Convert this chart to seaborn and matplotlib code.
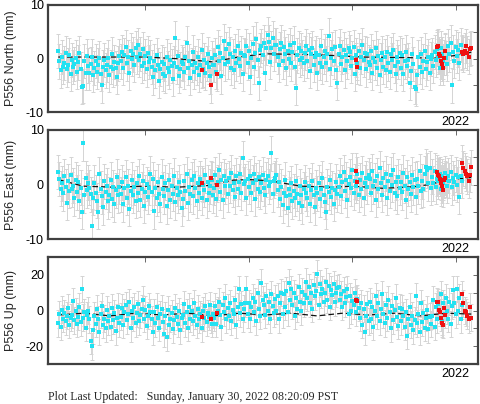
import numpy as np
import pandas as pd
import matplotlib
matplotlib.use('Agg')
import matplotlib.pyplot as plt
import seaborn as sns

# ---- data (decimal years, mm) ----
# daily-ish solutions, evenly spaced between these epochs
n_start, n_end = 2018.16, 2022.06

north = [1.4, -0.5, -2.2, 0.3, -1.5, -0.8, 1.0, -2.0, -1.2, 0.6, -2.8, -0.3, -1.6, -1.0, 0.2, -2.4, -0.7, 1.1, -1.9, -5.3, -5.1, -0.4, -2.6, 0.5, -1.3,
         -2.6, -1.0, 0.4, -3.1, -1.8, -0.4, -2.5, -1.2, 0.1, -2.9, -5.0, -1.6, -0.3, -2.2, -1.2, 0.2, -3.0, -1.5, 0.8, -2.0, -0.6, -1.8, -3.4, -0.9, 0.5,
         -0.5, 1.2, -1.8, 0.6, 2.1, -0.9, 0.3, -2.6, 1.5, -0.1, 0.8, -1.2, 1.9, 0.4, 2.6, -0.2, 0.9, -1.4, 1.8, -0.8, 0.5, -2.0, 1.1, -0.6, 0.2,
         -1.6, -3.5, -0.4, -2.2, 0.7, -1.2, -4.1, -1.9, -0.6, -2.8, -1.0, -3.2, 0.4, -1.7, -2.5, -0.3, -1.4, -3.8, -0.8, 3.9, -1.5, 0.5, -3.2, -2.0, -0.7,
         -1.0, -2.4, 0.3, 2.9, -1.8, -0.5, -3.6, -1.2, 1.2, -2.4, -0.8, -1.7, 0.4, -3.0, -1.1, 1.6, -2.0, -0.3, -2.7, -0.9, 0.8, -1.5, -3.3, 0.1, -1.2,
         -1.2, 0.6, -2.5, 2.2, -0.4, 1.1, -3.3, 0.2, 3.3, -1.0, 1.8, -0.6, 2.7, 0.9, -1.7, 0.4, -2.2, 1.4, -0.9, 2.4, 0.0, -1.4, 1.0, -2.8, 0.7,
         0.5, 2.3, -0.8, 1.5, -3.4, 0.2, 2.8, -1.5, 1.0, 3.6, -0.3, -4.5, 1.6, 2.4, 0.6, 3.0, -2.6, 2.0, 4.5, 3.1, -0.6, 1.9, 3.8, 0.9, 2.6,
         2.6, 0.4, -1.2, 1.8, 3.0, -0.5, 2.2, 0.9, -1.8, 1.4, 0.0, 2.5, -0.9, 1.2, 2.9, -1.5, -5.4, 0.6, 2.0, -0.3, 1.5, 0.2, -0.9, 1.1, 2.4,
         -0.4, 1.6, -2.3, 0.8, 2.0, -1.2, 0.3, 1.1, -2.6, 0.6, -0.8, 2.3, -1.6, 0.4, 1.4, -0.9, 0.9, 4.3, -1.9, 0.2, 1.8, -0.5, 2.1, -2.2, -4.5,
         0.9, 2.4, -1.0, 0.3, 1.7, -2.2, 0.6, -0.5, 2.0, 1.2, -1.4, 0.1, 2.2, -2.8, 0.7, -0.8, 1.5, -1.7, 0.4, 2.6, -0.3, 1.0, -2.0, 0.8, -0.6,
         -1.1, 1.4, -2.6, 0.2, -0.7, 1.9, -1.8, 0.5, -3.0, -0.3, 1.0, -1.5, 0.4, -2.1, 1.3, -0.9, -2.4, 0.8, -0.2, 1.6, -1.3, -2.8, 0.3, -0.6, 1.1,
         -1.7, 0.6, -2.8, -0.5, 1.2, -1.3, -0.2, -4.5, -2.3, 0.9, -1.0, -5.2, -5.6, -3.1, 0.3, -1.5, 0.8, -2.4, -0.4, 1.5, -1.9, -0.7, 0.4, -2.6, -0.1,
         0.6, -1.4, 1.2, -0.3, 1.8, 0.4, -1.7, 2.0, 0.9, -0.5, 1.5, 0.1, -1.0, 2.4, 0.8, 3.0, -5.0, 1.3, -0.4, 2.2, 0.5, 1.7, -0.8, 2.6, 1.0]

east = [2.3, 1.0, -0.8, 0.2, -1.6, 1.5, -0.4, -3.4, 0.6, -1.2, 1.8, -0.9, -0.2, -2.5, 0.9, -1.4, 0.4, -3.0, -0.6, -5.0, 7.6, -2.0, 1.2, -1.1, 0.3,
        -0.6, -1.8, -7.7, -2.4, 0.3, -1.5, -3.0, -5.0, 1.9, -0.8, -2.2, -4.2, 0.6, -1.3, -0.2, -3.1, -1.9, 0.9, -2.7, -0.5, -3.6, -1.1, 1.4, -2.0, -0.4,
        -1.8, 0.4, -3.6, -0.7, 1.3, -2.4, -0.3, -4.5, -1.2, 0.9, -2.0, -0.5, -3.0, 0.2, -1.6, 1.5, -2.8, -0.9, 0.6, -3.9, -1.4, 0.1, -2.3, -0.6, 2.0,
        -1.4, 1.0, -4.9, -0.6, -2.5, 0.5, -1.8, -3.6, 1.4, -0.9, -2.2, 0.3, -4.0, -1.1, 0.8, -2.9, -0.2, -1.7, 1.6, -3.3, -0.7, -2.0, 0.4, -1.3, -4.4,
        -2.6, 0.6, -1.2, 1.9, -3.4, -0.4, -1.8, 0.9, -2.2, 1.5, -0.7, -3.0, 0.2, -1.5, 1.1, -2.4, -0.1, -1.0, 1.7, -2.9, 0.4, -1.6, -0.3, 0.9, -2.0,
        -0.6, 1.8, -2.6, 0.4, 2.6, -1.4, 0.9, -2.9, 1.5, -0.3, 0.7, -1.8, 1.2, -0.2, 2.2, -1.0, 0.3, -2.3, 1.6, -0.8, 0.5, 2.0, -1.5, 4.8, 0.1,
        0.6, -2.4, 1.1, -0.4, 1.5, -1.6, 0.3, 2.0, -2.6, 0.8, -0.9, 1.3, -1.3, 0.2, 1.8, -0.7, -2.0, 0.9, 1.6, -0.3, 0.5, 5.7, -1.8, 0.7, 1.2,
        1.7, -1.0, 0.5, -2.6, -0.4, -3.8, -1.5, 0.9, -2.2, -4.4, -0.8, -1.9, 0.2, -3.1, -1.2, -2.5, 0.6, -1.7, -3.4, -0.3, -2.0, -4.0, -0.9, 0.4, -1.6,
        -2.5, -0.2, -3.6, -1.0, 0.7, -2.0, -4.2, -0.6, -1.6, 0.3, -2.7, -0.9, 1.2, -1.9, -3.2, -5.0, -0.4, -1.4, 0.8, -2.3, -0.7, -3.5, -1.1, 0.5, -1.8,
        -0.5, 1.6, -2.1, 0.4, 2.3, -1.2, 0.9, -2.8, 0.1, 1.4, -0.7, 2.6, -1.5, 0.6, -0.2, 1.9, -1.9, 0.8, -0.9, 2.1, -2.4, 0.3, 1.2, -0.4, 1.7,
        1.0, -1.6, 2.4, -0.3, 0.7, -2.8, 1.6, -0.9, 3.0, 0.2, -1.9, 1.2, -0.5, 2.0, -2.4, 0.6, -1.2, 1.8, -0.1, 2.6, -1.5, 0.4, -2.2, 1.4, -0.6,
        0.5, -1.4, 2.2, -0.2, -2.9, 1.3, -0.8, 0.4, -1.8, 1.8, -0.5, 0.9, -2.3, 1.1, -0.3, 2.4, -1.2, 0.6, -0.9, 2.0, 3.3, 2.6, 0.2, 3.0, -0.6,
        1.4, 0.2, 2.5, -0.4, 1.1, 0.6, 1.9, -0.8, 1.5, 0.3, 2.1, 0.9, -0.2, 1.6, 0.7, 2.3, -0.5, 1.2, 0.4, 1.8, 0.0, 1.3, -2.3, 1.6, 0.7]

up = [-7.0, -2.0, -9.0, 0.5, -4.5, -1.5, -6.0, -3.0, 1.5, -8.0, -4.0, -2.5, 5.2, -5.5, -0.5, -7.5, -3.5, 2.0, -6.5, 12.0, -4.0, -1.0, -9.5, -2.5, 0.0,
      -5.0, -17.0, -20.0, -11.0, -3.0, -7.5, 1.0, -5.0, -12.0, -2.0, 2.5, -8.0, -4.5, -10.0, 0.5, -6.0, -3.0, -9.0, 1.5, -5.5, -1.5, -11.5, -4.0, 2.0, -7.0,
      -3.5, 1.5, -8.0, -1.0, 3.0, -5.5, -2.0, 4.5, -10.0, 0.0, -4.0, 2.0, -7.0, -1.5, 3.5, -6.0, -2.5, 1.0, 6.0, -4.5, 0.5, -8.5, -3.0, 2.5, -1.0,
      -5.0, -12.0, -1.0, -7.0, 2.0, -4.0, -9.5, -2.0, 1.0, -6.5, -13.0, -3.0, -15.0, 0.5, -8.0, -4.5, -1.5, -10.5, -5.5, 1.5, -3.5, -7.5, -0.5, -11.0, -4.0,
      -2.5, 3.5, -7.0, -1.0, -9.5, 2.0, -4.5, -0.5, -6.0, 4.0, -3.0, -8.0, 1.0, -5.0, -2.0, -10.0, 0.0, -4.0, 2.5, -6.5, -1.5, -3.5, 3.0, -7.5, -2.0,
      -4.0, 2.5, -7.5, 0.0, 5.0, -2.5, -9.0, 3.0, -1.0, 7.0, -5.0, 1.5, -3.0, 4.0, -6.0, 0.5, -2.0, 6.0, -8.0, 2.0, 12.0, -1.5, 3.5, -4.5, 1.0,
      4.0, 12.0, -2.0, 4.0, -4.5, 2.0, 7.0, -1.0, 5.0, -6.0, 10.0, 1.0, -3.0, 15.5, 6.0, 3.0, -2.5, 8.0, 0.0, 4.5, -5.0, 9.0, 2.5, -1.5, 6.5,
      0.0, 8.0, -5.0, 4.0, 10.0, -2.0, 9.0, 2.0, 11.0, -1.0, 15.5, 6.0, 12.0, 3.0, 9.5, -3.0, 7.0, 1.0, 13.0, 5.0, -0.5, 10.5, 4.0, 8.5, 16.0,
      7.0, 13.0, 4.0, 10.0, 1.0, 14.0, 8.0, 11.0, 20.5, 3.0, 15.0, 9.0, 12.0, 5.0, 10.0, 16.0, 6.0, 13.5, 2.0, 11.5, 8.5, 14.5, 4.5, 9.5, 12.5,
      13.0, 6.0, 9.0, 2.0, 11.0, 4.0, 7.5, 12.0, -2.0, 8.0, 0.0, 5.5, 3.0, 10.0, -1.0, 6.5, 1.5, -4.0, 4.0, -8.0, 1.0, -12.0, -3.0, 3.5, -6.0,
      5.0, -5.0, 2.0, -9.0, 0.0, 8.0, -3.0, 4.0, -6.0, 1.0, 9.0, -2.0, -7.0, 3.0, -4.0, 6.0, -1.0, -10.0, 2.5, -5.5, 0.5, 7.0, -3.5, -8.5, 1.5,
      -6.0, 1.0, -3.0, -9.0, -1.0, -14.0, -5.0, 2.0, -8.0, -3.0, -11.0, -5.5, 8.0, -7.0, -2.0, -12.0, 4.0, -6.5, -1.5, -9.5, -4.0, 0.5, -10.5, -3.5, -7.5,
      -3.0, 6.0, -9.0, 2.0, -5.0, 3.5, -1.0, 9.0, -6.0, 4.0, -2.0, 7.0, 0.0, -4.5, 5.0, -7.5, 2.5, 11.7, 4.0, -2.0, 12.0, 0.0, 7.0, -5.0, 3.0]

# rapid solutions (red)
red_years = [2019.55, 2019.64, 2019.69, 2021.04, 2021.05,
             2021.820, 2021.830, 2021.840, 2021.850, 2021.860, 2021.870, 2021.880, 2021.890, 2021.900,
             2022.060, 2022.073, 2022.086, 2022.099, 2022.112, 2022.125, 2022.138, 2022.150]
red_north = [-2.2, -5.0, -2.8, -0.3, -1.5,
             2.1, 2.3, 0.8, 0.5, -0.5, -1.0, -1.7, 0.2, 1.4,
             1.3, 0.8, 1.5, 2.3, 1.0, 0.4, 1.8, 2.0]
red_east = [0.2, 1.2, 0.0, 2.5, 0.4,
            2.3, 1.7, 1.5, 1.0, 0.3, -0.2, -1.0, 0.8, 1.2,
            4.0, 3.0, 2.5, 2.0, 1.5, 0.7, 1.8, 3.2]
red_up = [-3.4, -4.8, -1.3, 6.0, 5.2,
          5.0, 4.5, 0.5, -1.0, -4.0, -7.0, -8.0, 1.5, -2.5,
          9.0, 4.0, 0.0, -1.0, -3.0, -5.0, 2.0, -4.0]

# model curves (dashed)
north_model_years = [2018.16, 2018.6, 2019.0, 2019.3, 2019.65, 2019.9, 2020.15, 2020.5,
                     2020.8, 2021.1, 2021.5, 2021.8, 2022.0, 2022.15]
north_model = [0.3, 0.3, 0.3, 0.0, -0.6, 0.3, 0.9, 0.8, 0.6, 0.3, 0.2, 0.1, 0.6, 1.2]
east_model_years = [2018.16, 2018.4, 2018.7, 2019.0, 2019.3, 2019.6, 2019.85, 2020.0, 2020.2,
                    2020.5, 2020.8, 2021.0, 2021.3, 2021.6, 2021.75, 2021.9, 2022.15]
east_model = [0.9, -0.3, -0.5, -0.3, -0.5, -0.2, 0.8, 0.9, 0.7, -0.3, -0.5, -0.3, -0.7, -0.4,
              0.0, 0.8, 1.3]
up_model_years = [2018.16, 2018.41, 2018.66, 2018.91, 2019.16, 2019.41, 2019.66, 2019.91,
                  2020.16, 2020.41, 2020.66, 2020.91, 2021.16, 2021.41, 2021.66, 2021.91, 2022.15]
up_model = [-2.5, -1.5, -3.0, -1.5, -2.5, -1.5, -3.0, -1.5, -2.5, -1.5, -3.0, -1.5, -2.5,
            -1.5, -3.0, -1.5, -2.0]

sigmas = {'North': 3.2, 'East': 3.2, 'Up': 7.5}

panels = [
    ('P556 North (mm)', north, red_north, north_model_years, north_model, sigmas['North'],
     (-10, 10), [-10, -5, 0, 5, 10], ['-10', '', '0', '', '10']),
    ('P556 East (mm)', east, red_east, east_model_years, east_model, sigmas['East'],
     (-10, 10), [-10, -5, 0, 5, 10], ['-10', '', '0', '', '10']),
    ('P556 Up (mm)', up, red_up, up_model_years, up_model, sigmas['Up'],
     (-30, 30), [-20, -10, 0, 10, 20], ['-20', '', '0', '', '20']),
]

sns.set_style('white')
plt.rcParams['font.family'] = ['Liberation Sans', 'DejaVu Sans']

W, H = 481, 404
fig = plt.figure(figsize=(W / 100, H / 100), dpi=100)
boxes = [(5, 112.3), (130, 239), (256.7, 364.3)]
frame_col = '#404040'
bar_kw = dict(fmt='none', ecolor='#d4d4d4', elinewidth=0.7, capsize=1.5, capthick=0.7, zorder=1)

for (label, vals, reds, myears, mvals, sig, ylim, yt, ytl), (top, bot) in zip(panels, boxes):
    ax = fig.add_axes([48 / W, 1 - bot / H, 430 / W, (bot - top) / H])
    years = np.linspace(n_start, n_end, len(vals))
    df = pd.DataFrame({'year': years, 'val': vals})
    rdf = pd.DataFrame({'year': red_years, 'val': reds})

    ax.errorbar(df['year'], df['val'], yerr=sig, **bar_kw)
    ax.errorbar(rdf['year'], rdf['val'], yerr=sig, **bar_kw)
    sns.lineplot(x=myears, y=mvals, ax=ax, color='#111111', linewidth=0.9, zorder=3,
                 linestyle=(0, (4.5, 2.5)))
    sns.scatterplot(data=df, x='year', y='val', ax=ax, color='#22e2f2', s=5.5,
                    linewidth=0, marker='s', zorder=4)
    sns.scatterplot(data=rdf, x='year', y='val', ax=ax, color='#ee1111', s=5.5,
                    linewidth=0, marker='s', zorder=5)

    ax.set_xlim(2018.061, 2022.215)
    ax.set_ylim(*ylim)
    ax.set_xticks([2019, 2020, 2021, 2022])
    ax.set_xticklabels(['', '', '', '2022'])
    ax.set_yticks(yt)
    ax.set_yticklabels(ytl)
    ax.tick_params(direction='in', length=3.5, width=0.6, color='#505050',
                   top=True, right=True, labelsize=9, pad=3, labelcolor='black')
    ax.set_xlabel('')
    ax.set_ylabel(label, fontsize=9)
    ax.yaxis.set_label_coords(-31 / 430, 0.5)
    for sp in ax.spines.values():
        sp.set_color(frame_col)
        sp.set_linewidth(1.6)

fig.text(48 / W, 1 - 397 / H, 'Plot Last Updated:   Sunday, January 30, 2022 08:20:09 PST',
         family='Liberation Serif', fontsize=8.6, va='center', ha='left')

fig.savefig('out.png', dpi=100)
